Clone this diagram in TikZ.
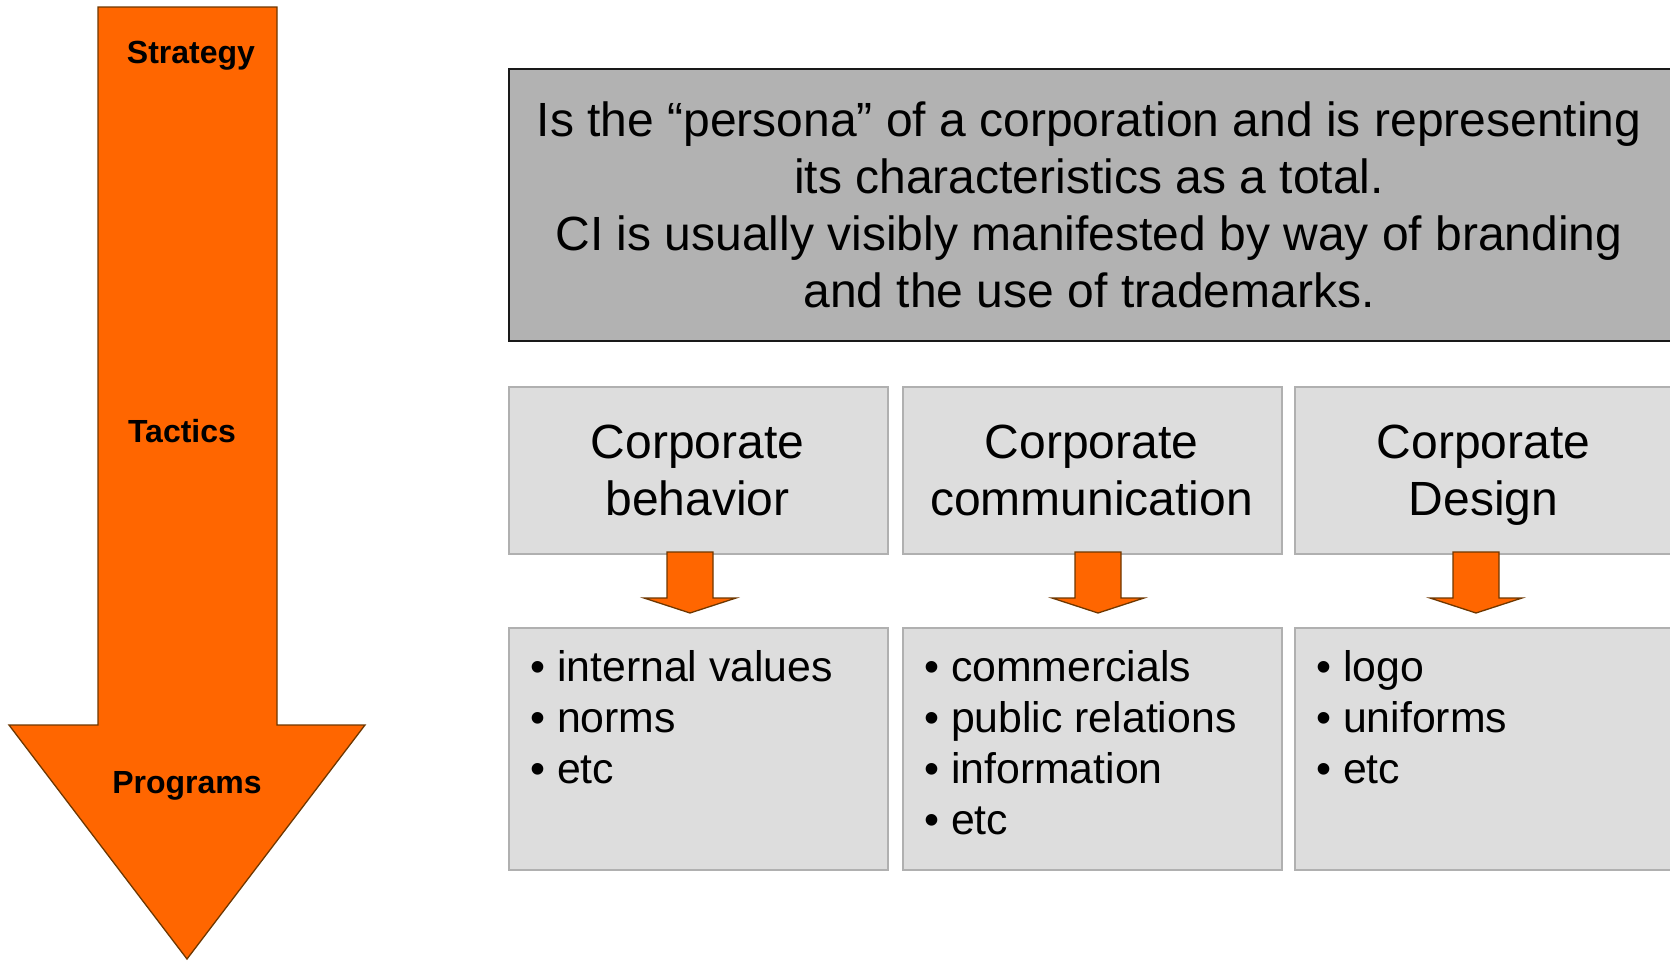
\documentclass[tikz,border=0pt]{standalone}
\usepackage{fontspec}
\setmainfont{Liberation Sans}
\definecolor{orng}{HTML}{FF6600}
\definecolor{orngline}{RGB}{110,55,0}
\definecolor{topfill}{HTML}{B2B2B2}
\definecolor{boxfill}{HTML}{DDDDDD}
\definecolor{boxline}{HTML}{B0B0B0}
\tikzset{
  topbox/.style={draw=black!90, line width=2pt, fill=topfill, inner sep=0pt, anchor=north west},
  greybox/.style={draw=boxline, line width=2.2pt, fill=boxfill, inner sep=0pt, anchor=north west},
  toptext/.style={anchor=base, inner sep=0pt, font=\fontsize{48}{57}\selectfont},
  hdrtext/.style={anchor=base, inner sep=0pt, font=\fontsize{48}{57}\selectfont},
  listtext/.style={anchor=base west, inner sep=0pt, font=\fontsize{42.8}{51}\selectfont},
  sidelabel/.style={anchor=base, inner sep=0pt, font=\fontsize{32}{38}\selectfont\bfseries},
  blockarrow/.style={fill=orng, draw=orngline, line width=1.3pt, line join=miter}
}
\begin{document}
\begin{tikzpicture}[x=1pt,y=-1pt]
\useasboundingbox (0,0) rectangle (1670,961);
% big arrow
\draw[blockarrow] (98,7) -- (277,7) -- (277,725) -- (365,725) -- (187,959) -- (9,725) -- (98,725) -- cycle;
\node[sidelabel] (strategy) at (191,63) {Strategy};
\node[sidelabel] (tactics) at (182,442) {Tactics};
\node[sidelabel] (programs) at (187,793) {Programs};
% top box
\node[topbox, minimum width=1200pt, minimum height=272pt] (top) at (508,68) {};
\node[toptext] (t1) at (1089,136) {Is the “persona” of a corporation and is representing};
\node[toptext] (t2) at (1089,193) {its characteristics as a total.};
\node[toptext] (t3) at (1089,250) {CI is usually visibly manifested by way of branding};
\node[toptext] (t4) at (1089,307) {and the use of trademarks.};
% header boxes
\node[greybox, minimum width=379pt, minimum height=167pt] (h1) at (508,386) {};
\node[greybox, minimum width=379pt, minimum height=167pt] (h2) at (902,386) {};
\node[greybox, minimum width=420pt, minimum height=167pt] (h3) at (1294,386) {};
\node[hdrtext] (h1a) at (697.5,458) {Corporate};
\node[hdrtext] (h1b) at (697.5,515) {behavior};
\node[hdrtext] (h2a) at (1091.5,458) {Corporate};
\node[hdrtext] (h2b) at (1091.5,515) {communication};
\node[hdrtext] (h3a) at (1483.5,458) {Corporate};
\node[hdrtext] (h3b) at (1483.5,515) {Design};
% list boxes
\node[greybox, minimum width=379pt, minimum height=242pt] (l1) at (508,627) {};
\node[greybox, minimum width=379pt, minimum height=242pt] (l2) at (902,627) {};
\node[greybox, minimum width=420pt, minimum height=242pt] (l3) at (1294,627) {};
% small arrows
\foreach \cx/\nm in {690/a1,1098/a2,1476/a3}{
  \draw[blockarrow] (\cx-23,552) -- (\cx+23,552) -- (\cx+23,598) -- (\cx+46,598) -- (\cx,613) -- (\cx-46,598) -- (\cx-23,598) -- cycle;
}
% list texts
\node[listtext] (l1a) at (530,681) {• internal values};
\node[listtext] (l1b) at (530,732) {• norms};
\node[listtext] (l1c) at (530,783) {• etc};
\node[listtext] (l2a) at (924,681) {• commercials};
\node[listtext] (l2b) at (924,732) {• public relations};
\node[listtext] (l2c) at (924,783) {• information};
\node[listtext] (l2d) at (924,834) {• etc};
\node[listtext] (l3a) at (1316,681) {• logo};
\node[listtext] (l3b) at (1316,732) {• uniforms};
\node[listtext] (l3c) at (1316,783) {• etc};
\end{tikzpicture}
\end{document}
